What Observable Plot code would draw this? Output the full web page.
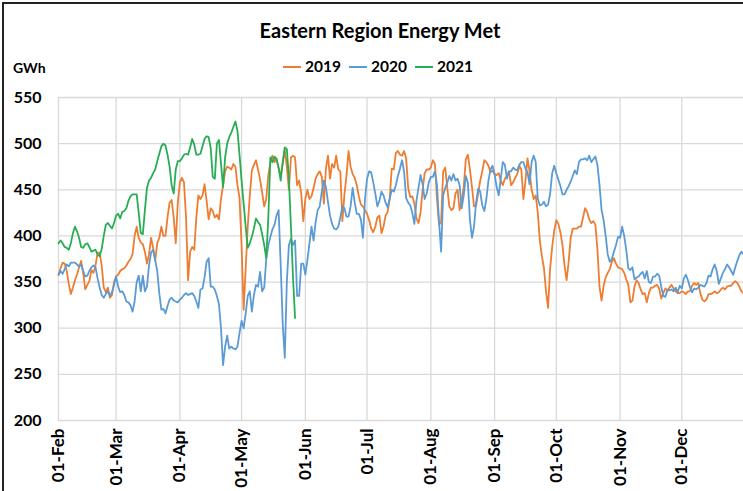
<!DOCTYPE html>
<html><head><meta charset="utf-8">
<script src="https://cdn.jsdelivr.net/npm/d3@7"></script>
<script src="https://cdn.jsdelivr.net/npm/@observablehq/plot@0.6"></script>
<style>
body{margin:0;background:#fff;overflow:hidden;}
#wrap{position:relative;width:743px;height:491px;overflow:hidden;font-family:Lato,"Open Sans",sans-serif;font-weight:bold;color:#000;background:#fff;}
#frame{position:absolute;left:2px;top:2px;width:741px;height:489px;border-left:2px solid #222;border-top:2px solid #222;box-sizing:border-box;pointer-events:none;}
#title{position:absolute;left:0;width:760px;top:18px;text-align:center;font-size:20px;}
#legend{position:absolute;left:0;width:756px;top:57px;text-align:center;font-size:15.5px;}
#legend span.item{display:inline-block;margin:0 4px;}
#legend span.sw{display:inline-block;width:18px;height:2px;vertical-align:middle;margin-right:4px;position:relative;top:-1px;}
#unit{position:absolute;left:13px;top:59px;font-size:14px;}
#chart{position:absolute;left:0;top:0;}
</style>
</head><body>
<div id="wrap">
  <div id="chart"></div>
  <div id="title">Eastern Region Energy Met</div>
  <div id="unit">GWh</div>
  <div id="legend"></div>
  <div id="frame"></div>
</div>
<script>
// Daily values (GWh) starting 01-Feb
const series = ["2019", "2020", "2021"];
const colors = ["#ED7D31", "#5B9BD5", "#27AE55"];
const yTicks = [200, 250, 300, 350, 400, 450, 500, 550];
const monthLabels = ["01-Feb","01-Mar","01-Apr","01-May","01-Jun","01-Jul","01-Aug","01-Sep","01-Oct","01-Nov","01-Dec"];

const gwh2019 = [
358,365,371,370,362,348,337,344,352,358,
366,373,360,342,347,351,363,360,368,382,
382,368,344,339,344,333,336,350,356,358,
362,364,365,368,372,375,380,400,410,398,
393,391,383,370,380,398,387,373,392,398,
410,400,400,420,436,439,420,392,436,458,
463,458,420,352,383,388,385,420,444,440,
444,456,438,418,430,427,420,423,418,440,
455,470,475,474,472,478,475,455,441,390,
320,365,410,444,471,477,482,472,461,447,
432,440,466,480,487,480,484,473,465,478,
493,475,450,485,487,485,455,460,446,416,
440,450,440,443,452,462,467,470,464,435,
473,487,462,478,474,487,472,470,416,445,
465,492,475,467,463,455,443,434,432,428,
424,417,408,404,410,420,422,403,410,422,
426,440,473,472,490,492,488,487,492,484,
452,442,443,435,419,414,425,450,468,472,
472,474,482,478,440,412,415,470,474,452,
432,428,430,446,450,428,438,453,483,488,
472,453,432,433,446,460,470,482,480,476,
469,471,467,466,468,460,455,462,465,470,
455,458,463,467,476,472,440,460,484,470,
450,440,444,425,395,378,365,340,322,365,
388,406,417,413,404,390,368,352,372,398,
408,408,408,410,410,420,430,426,418,414,
416,412,385,345,330,346,355,360,364,372,
376,370,366,365,364,360,353,347,328,330,
345,352,349,342,337,338,328,338,344,344,
346,347,343,332,338,343,341,344,347,343,
340,338,338,340,339,337,340,340,346,349,
347,349,338,331,329,331,337,337,338,340,
338,339,342,344,342,345,346,346,349,351,
349,345,340,338];

const gwh2020 = [
358,362,359,364,369,367,371,371,371,369,
367,369,362,356,357,362,366,368,366,354,
344,336,333,337,340,335,339,347,356,345,
339,340,336,329,328,325,318,329,350,357,
340,357,340,345,368,382,385,374,362,338,
320,321,316,324,331,333,330,329,328,331,
333,336,338,336,337,338,335,329,322,342,
343,355,372,376,345,345,342,335,326,300,
260,280,292,278,280,278,277,280,295,308,
300,316,335,340,318,336,347,345,361,340,
344,375,390,399,407,412,422,428,370,305,
268,350,390,397,390,395,335,335,370,370,
358,374,392,410,395,415,428,432,448,460,
453,437,422,413,408,407,410,420,432,430,
421,421,432,452,436,424,424,418,398,440,
462,470,469,458,446,432,438,448,444,436,
431,440,450,448,455,465,473,482,470,441,
436,433,425,413,438,452,466,456,440,446,
458,464,464,470,455,415,383,444,452,458,
465,460,467,460,462,455,430,444,465,458,
418,398,410,436,451,448,433,427,440,460,
472,476,467,453,444,462,480,477,462,470,
470,474,472,471,477,480,480,473,469,456,
480,487,480,440,433,434,437,432,434,446,
468,476,468,461,454,445,445,450,454,459,
465,471,467,480,483,483,484,482,487,480,
483,486,477,455,428,417,400,380,372,375,
383,390,399,398,410,400,385,365,363,366,
353,355,356,359,361,354,362,350,349,356,
356,359,357,345,335,334,341,341,342,340,
344,339,346,343,354,358,352,344,339,343,
342,344,347,346,345,349,357,356,364,369,
362,348,354,360,364,369,366,362,358,366,
373,379,383,380];

const gwh2021 = [
392,395,392,388,387,385,392,403,410,405,
398,388,387,391,392,388,383,384,385,380,
378,386,400,412,414,411,408,414,422,424,
419,426,427,430,438,443,445,445,445,425,
403,402,428,452,460,463,468,472,481,489,
497,500,498,488,475,455,446,472,481,481,
484,488,489,488,496,505,499,488,488,489,
497,505,508,507,495,464,462,500,504,478,
453,485,500,507,512,518,524,514,488,460,
435,410,387,392,399,408,419,415,412,402,
390,376,420,485,480,486,483,474,460,480,
496,494,462,410,355,311];

const parseLabel = d3.utcParse("%d-%b-%Y");
const monthTicks = monthLabels.map(l => parseLabel(l + "-2019"));
const start = monthTicks[0];
const end = d3.utcDay.offset(start, 333);
const toRows = (vals, year) => vals.map((v, i) => ({date: d3.utcDay.offset(start, i), value: v, year}));
const allValues = [gwh2019, gwh2020, gwh2021];
const rows = allValues.map((vals, k) => toRows(vals, series[k]));

const fmt = d3.utcFormat("%d-%b");
const chart = Plot.plot({
  width: 743,
  height: 491,
  marginTop: 97,
  marginBottom: 71,
  marginLeft: 58,
  marginRight: 0,
  style: {fontFamily: "Lato, 'Open Sans', sans-serif", fontSize: "16px", fontWeight: "bold", color: "#000", background: "transparent", overflow: "visible"},
  x: {type: "utc", domain: [start, end]},
  y: {domain: [200, 550]},
  marks: [
    Plot.gridY(yTicks, {stroke: "#d9d9d9", strokeOpacity: 1, strokeWidth: 1.3}),
    Plot.gridX(monthTicks, {stroke: "#d9d9d9", strokeOpacity: 1, strokeWidth: 1.3}),
    Plot.axisY(yTicks, {tickSize: 0, tickPadding: 17, label: null, fontSize: 16}),
    Plot.axisX(monthTicks, {tickSize: 0, tickRotate: -90, tickPadding: 8, tickFormat: d => fmt(d), label: null, fontSize: 17}),
    ...rows.map((r, k) => Plot.line(r, {x: "date", y: "value", stroke: colors[k], strokeWidth: 1.8, strokeLinejoin: "round"}))
  ]
});
document.getElementById("chart").appendChild(chart);

const legend = document.getElementById("legend");
series.forEach((s, k) => {
  const item = document.createElement("span");
  item.className = "item";
  const sw = document.createElement("span");
  sw.className = "sw";
  sw.style.background = colors[k];
  item.appendChild(sw);
  item.appendChild(document.createTextNode(s));
  legend.appendChild(item);
});
</script>
</body></html>
